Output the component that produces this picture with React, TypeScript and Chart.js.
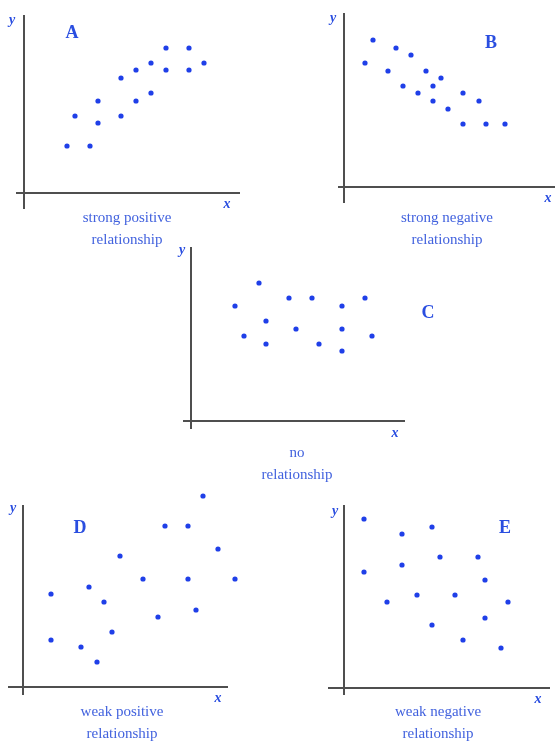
import React, { useEffect, useRef } from "react";
import { Chart, registerables } from "chart.js";

Chart.register(...registerables);

// ---- data (arbitrary units, origin at axis crossing) ----
const aX = [4.3, 6.6, 5.1, 7.4, 7.4, 9.7, 9.7, 11.2, 11.2, 12.7, 12.7, 14.2, 14.2, 16.5, 16.5, 18.0];
const aY = [4.7, 4.7, 7.7, 9.2, 7.0, 11.5, 7.7, 12.3, 9.2, 13.0, 10.0, 14.5, 12.3, 14.5, 12.3, 13.0];

const bX = [2.1, 2.9, 4.4, 5.2, 5.9, 6.7, 7.4, 8.2, 8.9, 8.9, 9.7, 10.4, 11.9, 11.9, 13.5, 14.2, 16.1];
const bY = [12.4, 14.7, 11.6, 13.9, 10.1, 13.2, 9.4, 11.6, 10.1, 8.6, 10.9, 7.8, 9.4, 6.3, 8.6, 6.3, 6.3];

const cX = [4.4, 6.8, 5.3, 7.5, 7.5, 9.8, 10.5, 12.1, 12.8, 15.1, 15.1, 15.1, 17.4, 18.1];
const cY = [11.5, 13.8, 8.5, 10.0, 7.7, 12.3, 9.2, 12.3, 7.7, 11.5, 9.2, 7.0, 12.3, 8.5];

const dX = [2.8, 2.8, 5.8, 6.6, 7.4, 8.1, 8.9, 9.7, 12.0, 13.5, 14.2, 16.5, 16.5, 17.3, 18.0, 19.5, 21.2];
const dY = [9.3, 4.7, 4.0, 10.0, 2.5, 8.5, 5.5, 13.1, 10.8, 7.0, 16.1, 16.1, 10.8, 7.7, 19.1, 13.8, 10.8];

const eX = [2.0, 2.0, 4.3, 5.8, 5.8, 7.3, 8.8, 8.8, 9.6, 11.1, 11.9, 13.4, 14.1, 14.1, 15.7, 16.4];
const eY = [16.9, 11.6, 8.6, 15.4, 12.3, 9.3, 16.1, 6.3, 13.1, 9.3, 4.8, 13.1, 10.8, 7.0, 4.0, 8.6];

const letters = ["A", "B", "C", "D", "E"];
const captionA = ["strong positive", "relationship"];
const captionB = ["strong negative", "relationship"];
const captionC = ["no", "relationship"];
const captionD = ["weak positive", "relationship"];
const captionE = ["weak negative", "relationship"];

// ---- layout ----
const UNIT = 10; // px per data unit
const PAD = 16;
const SERIF = '"Liberation Serif", "DejaVu Serif", serif';
const DOT = "#1f3fe8";
const AXIS = "#4f4f4f";
const TEXT = "#4262de";

type PanelDef = {
  xs: number[];
  ys: number[];
  area: { l: number; t: number; r: number; b: number };
  origin: { x: number; y: number };
  letter: string;
  letterPos: { x: number; y: number };
  yLab: { x: number; y: number };
  xLab: { x: number; y: number };
  caption: string[];
  capPos: { x: number; y: number };
};

const panels: PanelDef[] = [
  {
    xs: aX, ys: aY,
    area: { l: 16, t: 15, r: 240, b: 209 }, origin: { x: 24, y: 193 },
    letter: letters[0], letterPos: { x: 72, y: 32 },
    yLab: { x: 12, y: 20 }, xLab: { x: 227, y: 204 },
    caption: captionA, capPos: { x: 127, y: 217 },
  },
  {
    xs: bX, ys: bY,
    area: { l: 338, t: 13, r: 555, b: 203 }, origin: { x: 344, y: 187 },
    letter: letters[1], letterPos: { x: 491, y: 42 },
    yLab: { x: 333, y: 18 }, xLab: { x: 548, y: 198 },
    caption: captionB, capPos: { x: 447, y: 217 },
  },
  {
    xs: cX, ys: cY,
    area: { l: 183, t: 247, r: 405, b: 429 }, origin: { x: 191, y: 421 },
    letter: letters[2], letterPos: { x: 428, y: 312 },
    yLab: { x: 182, y: 250 }, xLab: { x: 395, y: 433 },
    caption: captionC, capPos: { x: 297, y: 452 },
  },
  {
    xs: dX, ys: dY,
    area: { l: 8, t: 505, r: 228, b: 695 }, origin: { x: 23, y: 687 },
    letter: letters[3], letterPos: { x: 80, y: 527 },
    yLab: { x: 13, y: 508 }, xLab: { x: 218, y: 698 },
    caption: captionD, capPos: { x: 122, y: 711 },
  },
  {
    xs: eX, ys: eY,
    area: { l: 328, t: 505, r: 550, b: 695 }, origin: { x: 344, y: 688 },
    letter: letters[4], letterPos: { x: 505, y: 527 },
    yLab: { x: 335, y: 511 }, xLab: { x: 538, y: 699 },
    caption: captionE, capPos: { x: 438, y: 711 },
  },
];

function Panel({ p }: { p: PanelDef }) {
  const ref = useRef<HTMLCanvasElement | null>(null);
  const w = p.area.r - p.area.l + 2 * PAD;
  const h = p.area.b - p.area.t + 2 * PAD;

  useEffect(() => {
    if (!ref.current) return;
    // scale range covers the whole canvas; axis extents drawn by plugin
    const xMin = (p.area.l - PAD - p.origin.x) / UNIT;
    const xMax = (p.area.r + PAD - p.origin.x) / UNIT;
    const yMin = (p.origin.y - p.area.b - PAD) / UNIT;
    const yMax = (p.origin.y - p.area.t + PAD) / UNIT;
    const axLo = (p.area.l - p.origin.x) / UNIT;
    const axHi = (p.area.r - p.origin.x) / UNIT;
    const ayLo = (p.origin.y - p.area.b) / UNIT;
    const ayHi = (p.origin.y - p.area.t) / UNIT;

    const axesPlugin = {
      id: "crossAxes",
      beforeDatasetsDraw(chart: any) {
        const { ctx, scales } = chart;
        const xs = scales.x;
        const ys = scales.y;
        ctx.save();
        ctx.strokeStyle = AXIS;
        ctx.lineWidth = 2;
        ctx.beginPath();
        ctx.moveTo(xs.getPixelForValue(axLo), ys.getPixelForValue(0));
        ctx.lineTo(xs.getPixelForValue(axHi), ys.getPixelForValue(0));
        ctx.moveTo(xs.getPixelForValue(0), ys.getPixelForValue(ayLo));
        ctx.lineTo(xs.getPixelForValue(0), ys.getPixelForValue(ayHi));
        ctx.stroke();
        ctx.restore();
      },
    };

    const chart = new Chart(ref.current, {
      type: "scatter",
      data: {
        datasets: [
          {
            data: p.xs.map((x, i) => ({ x, y: p.ys[i] })),
            backgroundColor: DOT,
            borderWidth: 0,
            pointRadius: 2.6,
            pointHoverRadius: 2.6,
          },
        ],
      },
      options: {
        animation: false,
        responsive: false,
        events: [],
        layout: { padding: 0, autoPadding: false },
        plugins: { legend: { display: false }, tooltip: { enabled: false }, title: { display: false } },
        scales: {
          x: { type: "linear", display: false, min: xMin, max: xMax },
          y: { type: "linear", display: false, min: yMin, max: yMax },
        },
      },
      plugins: [axesPlugin],
    });
    return () => chart.destroy();
  }, [p]);

  const txt = (x: number, y: number, extra: React.CSSProperties): React.CSSProperties => ({
    position: "absolute",
    left: x,
    top: y,
    transform: "translate(-50%, -50%)",
    whiteSpace: "nowrap",
    fontFamily: SERIF,
    color: TEXT,
    lineHeight: 1,
    ...extra,
  });

  return (
    <>
      <canvas
        ref={ref}
        width={w}
        height={h}
        style={{ position: "absolute", left: p.area.l - PAD, top: p.area.t - PAD, width: w, height: h }}
      />
      <div style={txt(p.letterPos.x, p.letterPos.y, { fontSize: 18, fontWeight: "bold", color: "#2a4ee0" })}>{p.letter}</div>
      <div style={txt(p.yLab.x, p.yLab.y, { fontSize: 14, fontWeight: "bold", fontStyle: "italic", color: "#2a4ee0" })}>y</div>
      <div style={txt(p.xLab.x, p.xLab.y, { fontSize: 14, fontWeight: "bold", fontStyle: "italic", color: "#2a4ee0" })}>x</div>
      {p.caption.map((line, i) => (
        <div key={i} style={txt(p.capPos.x, p.capPos.y + i * 22, { fontSize: 15 })}>
          {line}
        </div>
      ))}
    </>
  );
}

export default function App() {
  return (
    <div style={{ position: "absolute", left: 0, top: 0, width: 555, height: 742, background: "#fff", overflow: "hidden" }}>
      {panels.map((p, i) => (
        <Panel key={i} p={p} />
      ))}
    </div>
  );
}
